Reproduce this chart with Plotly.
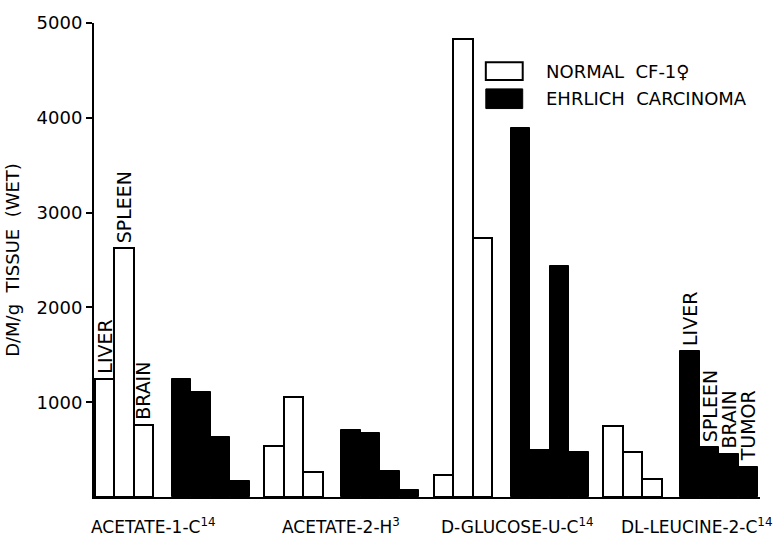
import plotly.graph_objects as go

# ---- data ----
groups = ["ACETATE-1-C<sup>14</sup>", "ACETATE-2-H<sup>3</sup>",
          "D-GLUCOSE-U-C<sup>14</sup>", "DL-LEUCINE-2-C<sup>14</sup>"]
normal_tissues = ["LIVER", "SPLEEN", "BRAIN"]
ehrlich_tissues = ["LIVER", "SPLEEN", "BRAIN", "TUMOR"]
normal_liver = [1245, 540, 230, 750]
normal_spleen = [2625, 1060, 4830, 480]
normal_brain = [757, 265, 2730, 185]
ehrlich_liver = [1245, 710, 3890, 1540]
ehrlich_spleen = [1110, 670, 500, 530]
ehrlich_brain = [633, 275, 2440, 456]
ehrlich_tumor = [166, 70, 470, 321]
y_ticks = [1000, 2000, 3000, 4000, 5000]

normal_vals = [normal_liver, normal_spleen, normal_brain]
ehrlich_vals = [ehrlich_liver, ehrlich_spleen, ehrlich_brain, ehrlich_tumor]

# ---- layout geometry (x axis in pixel-like units) ----
L, R, T, B = 92, 20, 15, 42
W, H = 780, 539
x0, x1 = 92, W - R
group_start0, group_step = 93, 170
bw = 19.5
black_off = 77
label_shift = [-18, 0, 7, 17]
FONT = "DejaVu Sans"

def px_to_y(py):
    return (H - B - py) / (H - T - B) * 5000

nx, ny, ex, ey = [], [], [], []
for g in range(len(groups)):
    s = group_start0 + g * group_step
    for i, vals in enumerate(normal_vals):
        nx.append(s + (i + 0.5) * bw)
        ny.append(vals[g])
    for i, vals in enumerate(ehrlich_vals):
        ex.append(s + black_off + (i + 0.5) * bw)
        ey.append(vals[g])

fig = go.Figure()
fig.add_trace(go.Bar(x=nx, y=ny, width=bw, name="NORMAL CF-1♀",
                     marker=dict(color="white", line=dict(color="black", width=2))))
fig.add_trace(go.Bar(x=ex, y=ey, width=bw, name="EHRLICH CARCINOMA",
                     marker=dict(color="black", line=dict(color="black", width=1))))

annotations = []
# tissue labels: normal bars of first group
for i, t in enumerate(normal_tissues):
    annotations.append(dict(x=nx[i], y=ny[i], text=t, textangle=-90, showarrow=False,
                            xanchor="center", yanchor="bottom", yshift=3,
                            font=dict(family=FONT, size=19, color="black")))
# tissue labels: ehrlich bars of last group
last = len(groups) - 1
for i, t in enumerate(ehrlich_tissues):
    k = last * 4 + i
    annotations.append(dict(x=ex[k], y=ey[k], text=t, textangle=-90, showarrow=False,
                            xanchor="center", yanchor="bottom", yshift=3,
                            font=dict(family=FONT, size=19, color="black")))
# group labels
for g, name in enumerate(groups):
    s = group_start0 + g * group_step
    annotations.append(dict(x=s + 77, y=0, text=name, showarrow=False,
                            xanchor="center", yanchor="middle", yshift=-29,
                            xshift=label_shift[g],
                            font=dict(family=FONT, size=17, color="black")))
# legend text
annotations.append(dict(x=543, y=px_to_y(64), text="NORMAL  CF-1♀", showarrow=False,
                        xanchor="left", yanchor="middle",
                        font=dict(family=FONT, size=18, color="black")))
annotations.append(dict(x=543, y=px_to_y(92), text="EHRLICH  CARCINOMA", showarrow=False,
                        xanchor="left", yanchor="middle",
                        font=dict(family=FONT, size=18, color="black")))

shapes = [
    dict(type="rect", xref="x", yref="y", x0=485, x1=522, y0=px_to_y(73), y1=px_to_y(55),
         line=dict(color="black", width=2), fillcolor="white"),
    dict(type="rect", xref="x", yref="y", x0=485, x1=522, y0=px_to_y(102), y1=px_to_y(82),
         line=dict(color="black", width=1), fillcolor="black"),
]

fig.update_layout(
    width=W, height=H,
    margin=dict(l=L, r=R, t=T, b=B),
    paper_bgcolor="white", plot_bgcolor="white",
    barmode="overlay", showlegend=False, bargap=0,
    annotations=annotations, shapes=shapes,
    xaxis=dict(range=[x0, x1], showticklabels=False, ticks="", showgrid=False,
               zeroline=False, showline=True, linecolor="black", linewidth=2),
    yaxis=dict(range=[0, 5000], tickvals=y_ticks, ticks="outside", ticklen=6,
               tickwidth=2, tickcolor="black", showgrid=False, zeroline=False,
               showline=True, linecolor="black", linewidth=2,
               tickfont=dict(family=FONT, size=18, color="black"),
               title=dict(text="D/M/g  TISSUE  (WET)", standoff=12,
                          font=dict(family=FONT, size=18, color="black"))),
)

fig.write_html("out.html")
